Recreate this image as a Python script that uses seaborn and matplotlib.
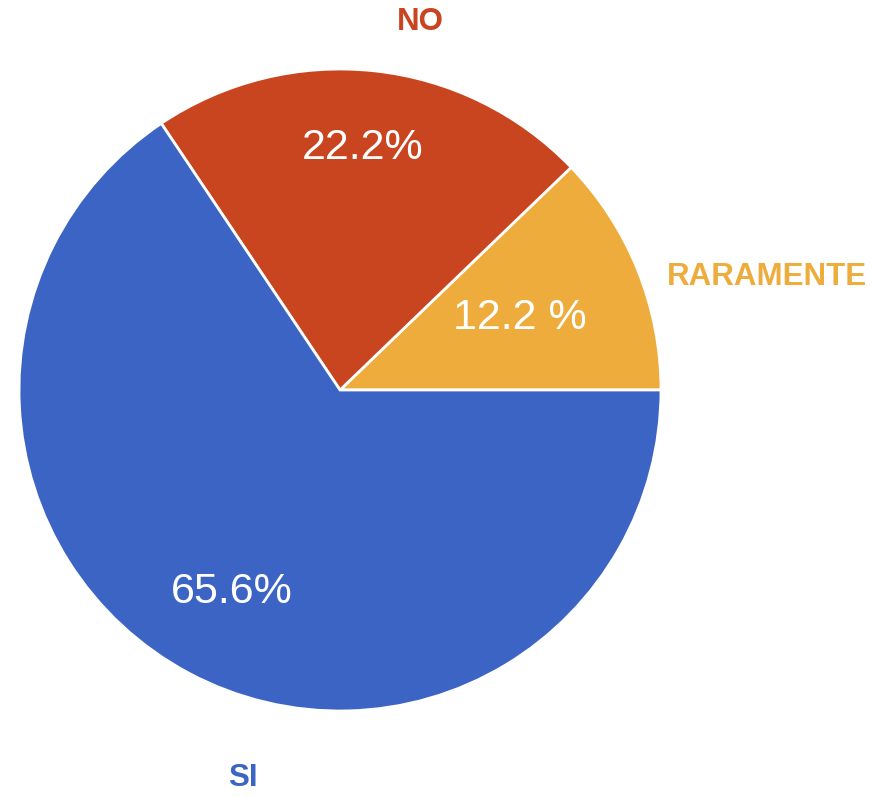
import matplotlib
matplotlib.use("Agg")
import matplotlib.pyplot as plt
import seaborn as sns

# data
categories = ["RARAMENTE", "NO", "SI"]
shares = [12.2, 22.2, 65.6]
pct_labels = ["12.2 %", "22.2%", "65.6%"]
colors = ["#EEAC3C", "#C8451F", "#3C64C4"]

sns.set_theme(style="white")
plt.rcParams['font.family'] = ['Liberation Sans', 'DejaVu Sans']

fig = plt.figure(figsize=(8.73, 7.96), dpi=100)
# pie centre ~ (340, 390) px, radius ~321 px
r = 321
ax = fig.add_axes([(340 - r) / 873, (796 - 390 - r) / 796, 2 * r / 873, 2 * r / 796])

wedges, texts = ax.pie(shares, colors=colors, startangle=0, counterclock=True,
                       labels=categories, radius=1,
                       wedgeprops=dict(edgecolor="white", linewidth=2))
ax.set_xlim(-1, 1)
ax.set_ylim(-1, 1)
ax.set_aspect("equal")
ax.axis("off")

# outer category labels
label_pos = [(1.330, 0.352), (0.249, 1.146), (-0.302, -1.209)]
for t, pos, c in zip(texts, label_pos, colors):
    t.set_position(pos)
    t.set_ha("center")
    t.set_va("center")
    t.set_color(c)
    t.set_fontsize(22.5)
    t.set_fontweight("bold")
    t.set_clip_on(False)

# percentage labels inside slices
pct_pos = [(0.561, 0.224), (0.072, 0.754), (-0.336, -0.629)]
for s, pos in zip(pct_labels, pct_pos):
    ax.text(pos[0], pos[1], s, ha="center", va="center", color="white",
            fontsize=31)

fig.savefig("out.png", dpi=100)
